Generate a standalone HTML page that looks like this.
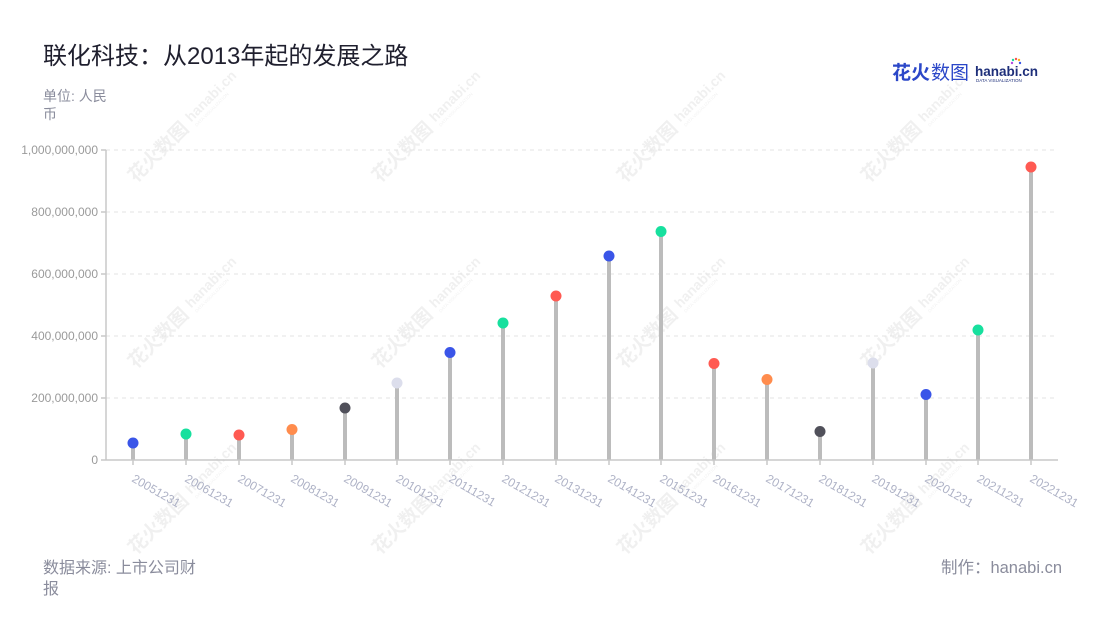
<!DOCTYPE html>
<html>
<head>
<meta charset="utf-8">
<style>
  html,body{margin:0;padding:0;background:#fff;}
  body{width:1100px;height:620px;overflow:hidden;font-family:"Liberation Sans","Noto Sans CJK SC",sans-serif;}
  svg text{font-family:"Liberation Sans","Noto Sans CJK SC",sans-serif;}
</style>
</head>
<body>
<svg width="1100" height="620" viewBox="0 0 1100 620" xmlns="http://www.w3.org/2000/svg">
  <rect width="1100" height="620" fill="#fff"/>

  <!-- watermarks -->
  <g fill="#000" opacity="0.06">
    <g transform="translate(184,124) rotate(-45)"><text x="-76" y="8" font-size="19" font-weight="bold">花火数图</text><text x="6" y="4" font-size="14" font-weight="bold">hanabi.cn</text><text x="7" y="11" font-size="4.5">DATA VISUALIZATION</text></g>
    <g transform="translate(428,124) rotate(-45)"><text x="-76" y="8" font-size="19" font-weight="bold">花火数图</text><text x="6" y="4" font-size="14" font-weight="bold">hanabi.cn</text><text x="7" y="11" font-size="4.5">DATA VISUALIZATION</text></g>
    <g transform="translate(673,124) rotate(-45)"><text x="-76" y="8" font-size="19" font-weight="bold">花火数图</text><text x="6" y="4" font-size="14" font-weight="bold">hanabi.cn</text><text x="7" y="11" font-size="4.5">DATA VISUALIZATION</text></g>
    <g transform="translate(917,124) rotate(-45)"><text x="-76" y="8" font-size="19" font-weight="bold">花火数图</text><text x="6" y="4" font-size="14" font-weight="bold">hanabi.cn</text><text x="7" y="11" font-size="4.5">DATA VISUALIZATION</text></g>
    <g transform="translate(184,310) rotate(-45)"><text x="-76" y="8" font-size="19" font-weight="bold">花火数图</text><text x="6" y="4" font-size="14" font-weight="bold">hanabi.cn</text><text x="7" y="11" font-size="4.5">DATA VISUALIZATION</text></g>
    <g transform="translate(428,310) rotate(-45)"><text x="-76" y="8" font-size="19" font-weight="bold">花火数图</text><text x="6" y="4" font-size="14" font-weight="bold">hanabi.cn</text><text x="7" y="11" font-size="4.5">DATA VISUALIZATION</text></g>
    <g transform="translate(673,310) rotate(-45)"><text x="-76" y="8" font-size="19" font-weight="bold">花火数图</text><text x="6" y="4" font-size="14" font-weight="bold">hanabi.cn</text><text x="7" y="11" font-size="4.5">DATA VISUALIZATION</text></g>
    <g transform="translate(917,310) rotate(-45)"><text x="-76" y="8" font-size="19" font-weight="bold">花火数图</text><text x="6" y="4" font-size="14" font-weight="bold">hanabi.cn</text><text x="7" y="11" font-size="4.5">DATA VISUALIZATION</text></g>
    <g transform="translate(184,496) rotate(-45)"><text x="-76" y="8" font-size="19" font-weight="bold">花火数图</text><text x="6" y="4" font-size="14" font-weight="bold">hanabi.cn</text><text x="7" y="11" font-size="4.5">DATA VISUALIZATION</text></g>
    <g transform="translate(428,496) rotate(-45)"><text x="-76" y="8" font-size="19" font-weight="bold">花火数图</text><text x="6" y="4" font-size="14" font-weight="bold">hanabi.cn</text><text x="7" y="11" font-size="4.5">DATA VISUALIZATION</text></g>
    <g transform="translate(673,496) rotate(-45)"><text x="-76" y="8" font-size="19" font-weight="bold">花火数图</text><text x="6" y="4" font-size="14" font-weight="bold">hanabi.cn</text><text x="7" y="11" font-size="4.5">DATA VISUALIZATION</text></g>
    <g transform="translate(917,496) rotate(-45)"><text x="-76" y="8" font-size="19" font-weight="bold">花火数图</text><text x="6" y="4" font-size="14" font-weight="bold">hanabi.cn</text><text x="7" y="11" font-size="4.5">DATA VISUALIZATION</text></g>
  </g>

  <!-- title -->
  <text x="43" y="64" font-size="24" fill="#1f1f2e">联化科技：从2013年起的发展之路</text>
  <text x="43" y="101" font-size="14" fill="#8a8c9c">单位: 人民</text>
  <text x="43" y="119" font-size="14" fill="#8a8c9c">币</text>

  <!-- logo -->
  <text x="892" y="79" font-size="19" font-weight="bold" fill="#2b47c8">花火</text>
  <text x="931" y="79" font-size="19" fill="#2b47c8">数图</text>
  <text x="975" y="76" font-size="13.5" font-weight="bold" fill="#1e2f7a">hanabi.cn</text>
  <text x="976" y="82" font-size="4.5" fill="#1e2f7a">DATA VISUALIZATION</text>
  <g transform="translate(1016,62)">
    <circle cx="0" cy="-3" r="1.2" fill="#f5564e"/>
    <circle cx="3" cy="-2" r="1.2" fill="#ffb020"/>
    <circle cx="-3" cy="-2" r="1.2" fill="#1ad9a0"/>
    <circle cx="4" cy="1" r="1.2" fill="#3a55e8"/>
    <circle cx="-4" cy="1" r="1.2" fill="#b34de0"/>
  </g>

  <!-- grid -->
  <g stroke="#e3e3e3" stroke-width="1" stroke-dasharray="4,4">
    <line x1="106" y1="150" x2="1057" y2="150"/>
    <line x1="106" y1="212" x2="1057" y2="212"/>
    <line x1="106" y1="274" x2="1057" y2="274"/>
    <line x1="106" y1="336" x2="1057" y2="336"/>
    <line x1="106" y1="398" x2="1057" y2="398"/>
  </g>

  <!-- y axis -->
  <g stroke="#c8c8c8" stroke-width="1.5">
    <line x1="106" y1="150" x2="106" y2="460"/>
    <line x1="101" y1="150" x2="106" y2="150"/>
    <line x1="101" y1="212" x2="106" y2="212"/>
    <line x1="101" y1="274" x2="106" y2="274"/>
    <line x1="101" y1="336" x2="106" y2="336"/>
    <line x1="101" y1="398" x2="106" y2="398"/>
    <line x1="101" y1="460" x2="106" y2="460"/>
  </g>
  <g font-size="12" fill="#9a9a9a" text-anchor="end">
    <text x="98" y="154">1,000,000,000</text>
    <text x="98" y="216">800,000,000</text>
    <text x="98" y="278">600,000,000</text>
    <text x="98" y="340">400,000,000</text>
    <text x="98" y="402">200,000,000</text>
    <text x="98" y="464">0</text>
  </g>

  <!-- stems -->
  <g stroke="#bcbcbc" stroke-width="4">
    <line x1="133" y1="460" x2="133" y2="443"/>
    <line x1="186" y1="460" x2="186" y2="434"/>
    <line x1="239" y1="460" x2="239" y2="435"/>
    <line x1="292" y1="460" x2="292" y2="429.5"/>
    <line x1="345" y1="460" x2="345" y2="408"/>
    <line x1="397" y1="460" x2="397" y2="383"/>
    <line x1="450" y1="460" x2="450" y2="352.5"/>
    <line x1="503" y1="460" x2="503" y2="323"/>
    <line x1="556" y1="460" x2="556" y2="296"/>
    <line x1="609" y1="460" x2="609" y2="256"/>
    <line x1="661" y1="460" x2="661" y2="231.5"/>
    <line x1="714" y1="460" x2="714" y2="363.5"/>
    <line x1="767" y1="460" x2="767" y2="379.5"/>
    <line x1="820" y1="460" x2="820" y2="431.5"/>
    <line x1="873" y1="460" x2="873" y2="363"/>
    <line x1="926" y1="460" x2="926" y2="394.5"/>
    <line x1="978" y1="460" x2="978" y2="330"/>
    <line x1="1031" y1="460" x2="1031" y2="167"/>
  </g>

  <!-- x axis -->
  <g stroke="#c8c8c8" stroke-width="1.5">
    <line x1="106" y1="460" x2="1058" y2="460"/>
    <line x1="133" y1="460" x2="133" y2="465"/>
    <line x1="186" y1="460" x2="186" y2="465"/>
    <line x1="239" y1="460" x2="239" y2="465"/>
    <line x1="292" y1="460" x2="292" y2="465"/>
    <line x1="345" y1="460" x2="345" y2="465"/>
    <line x1="397" y1="460" x2="397" y2="465"/>
    <line x1="450" y1="460" x2="450" y2="465"/>
    <line x1="503" y1="460" x2="503" y2="465"/>
    <line x1="556" y1="460" x2="556" y2="465"/>
    <line x1="609" y1="460" x2="609" y2="465"/>
    <line x1="661" y1="460" x2="661" y2="465"/>
    <line x1="714" y1="460" x2="714" y2="465"/>
    <line x1="767" y1="460" x2="767" y2="465"/>
    <line x1="820" y1="460" x2="820" y2="465"/>
    <line x1="873" y1="460" x2="873" y2="465"/>
    <line x1="926" y1="460" x2="926" y2="465"/>
    <line x1="978" y1="460" x2="978" y2="465"/>
    <line x1="1031" y1="460" x2="1031" y2="465"/>
  </g>

  <!-- dots -->
  <circle cx="133" cy="443" r="5.5" fill="#3a55e8"/>
  <circle cx="186" cy="434" r="5.5" fill="#17e09e"/>
  <circle cx="239" cy="435" r="5.5" fill="#ff5a52"/>
  <circle cx="292" cy="429.5" r="5.5" fill="#ff8c4d"/>
  <circle cx="345" cy="408" r="5.5" fill="#50505a"/>
  <circle cx="397" cy="383" r="5.5" fill="#dcdeec"/>
  <circle cx="450" cy="352.5" r="5.5" fill="#3a55e8"/>
  <circle cx="503" cy="323" r="5.5" fill="#17e09e"/>
  <circle cx="556" cy="296" r="5.5" fill="#ff5a52"/>
  <circle cx="609" cy="256" r="5.5" fill="#3a55e8"/>
  <circle cx="661" cy="231.5" r="5.5" fill="#17e09e"/>
  <circle cx="714" cy="363.5" r="5.5" fill="#ff5a52"/>
  <circle cx="767" cy="379.5" r="5.5" fill="#ff8c4d"/>
  <circle cx="820" cy="431.5" r="5.5" fill="#50505a"/>
  <circle cx="873" cy="363" r="5.5" fill="#dcdeec"/>
  <circle cx="926" cy="394.5" r="5.5" fill="#3a55e8"/>
  <circle cx="978" cy="330" r="5.5" fill="#17e09e"/>
  <circle cx="1031" cy="167" r="5.5" fill="#ff5a52"/>

  <!-- x labels -->
  <g font-size="12" fill="#aeb2c6">
    <text transform="translate(131,481) rotate(30)">20051231</text>
    <text transform="translate(184,481) rotate(30)">20061231</text>
    <text transform="translate(237,481) rotate(30)">20071231</text>
    <text transform="translate(290,481) rotate(30)">20081231</text>
    <text transform="translate(343,481) rotate(30)">20091231</text>
    <text transform="translate(395,481) rotate(30)">20101231</text>
    <text transform="translate(448,481) rotate(30)">20111231</text>
    <text transform="translate(501,481) rotate(30)">20121231</text>
    <text transform="translate(554,481) rotate(30)">20131231</text>
    <text transform="translate(607,481) rotate(30)">20141231</text>
    <text transform="translate(659,481) rotate(30)">20151231</text>
    <text transform="translate(712,481) rotate(30)">20161231</text>
    <text transform="translate(765,481) rotate(30)">20171231</text>
    <text transform="translate(818,481) rotate(30)">20181231</text>
    <text transform="translate(871,481) rotate(30)">20191231</text>
    <text transform="translate(924,481) rotate(30)">20201231</text>
    <text transform="translate(976,481) rotate(30)">20211231</text>
    <text transform="translate(1029,481) rotate(30)">20221231</text>
  </g>

  <!-- footer -->
  <text x="43" y="573" font-size="16" fill="#8a8c9c">数据来源: 上市公司财</text>
  <text x="43" y="594" font-size="16" fill="#8a8c9c">报</text>
  <text x="1062" y="573" font-size="16.5" fill="#8a8c9c" text-anchor="end">制作：hanabi.cn</text>
</svg>
</body>
</html>
